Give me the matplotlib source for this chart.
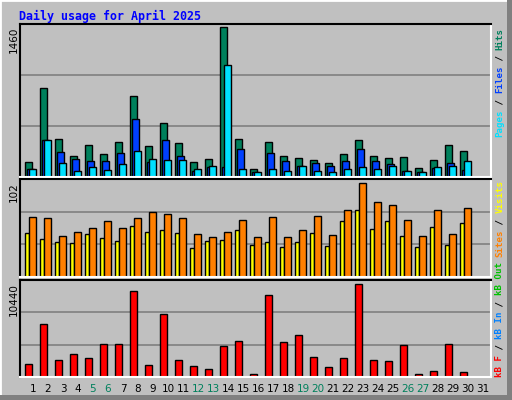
import matplotlib
matplotlib.use("Agg")
import matplotlib.pyplot as plt
from matplotlib.patches import Rectangle

days = list(range(1, 32))
hits = [146, 871, 374, 205, 315, 225, 345, 791, 305, 523, 335, 146, 176, 1460, 374, 76,
        345, 205, 186, 166, 136, 225, 364, 205, 186, 196, 86, 166, 315, 255, 0]
files = [76, 364, 245, 176, 156, 156, 235, 563, 146, 364, 205, 56, 96, 96, 275, 46,
         235, 156, 106, 136, 106, 156, 275, 156, 126, 56, 46, 86, 136, 66, 0]
pages = [76, 364, 136, 56, 96, 66, 126, 255, 176, 166, 166, 76, 106, 1090, 76, 46,
         76, 56, 106, 56, 46, 76, 96, 76, 106, 56, 46, 96, 106, 156, 0]
sites = [65, 64, 44, 49, 53, 61, 53, 64, 70, 68, 64, 47, 43, 49, 62, 43,
         65, 43, 51, 66, 45, 72, 102, 81, 78, 62, 44, 72, 47, 75, 0]
visits = [48, 41, 38, 37, 47, 42, 39, 55, 49, 51, 48, 31, 39, 40, 51, 35,
          38, 33, 38, 48, 34, 61, 72, 52, 61, 44, 33, 54, 35, 58, 0]
kbytes = [1410, 5980, 1870, 2550, 2100, 3700, 3700, 9640, 1300, 7010, 1870, 1180, 840, 3470,
          4040, 380, 9180, 3930, 4720, 2210, 1070, 2100, 10440, 1870, 1750, 3580, 380, 720,
          3700, 610, 0]
weekends = [5, 6, 12, 13, 19, 20, 26, 27]

W, H = 512, 400
BG = "#c0c0c0"
fig = plt.figure(figsize=(W / 100, H / 100), dpi=100, facecolor=BG)
mono = "DejaVu Sans Mono"

# frame
fig.patches.append(Rectangle((0, 0), 1, 1, transform=fig.transFigure, fill=False,
                             edgecolor="white", lw=2))
fig.patches.append(Rectangle((507 / W, 0), 5 / W, 1, transform=fig.transFigure,
                             color="#808080", lw=0))
fig.patches.append(Rectangle((0, 0), 1, 5 / H, transform=fig.transFigure,
                             color="#808080", lw=0))

def ax_px(x0, y0, x1, y1):
    return fig.add_axes([x0 / W, 1 - y1 / H, (x1 - x0) / W, (y1 - y0) / H])

X0, X1 = 20, 491
xl = (0.133, 31.53)
u = 1 / 15.0

def style(ax, ymax):
    ax.set_facecolor(BG)
    ax.set_xlim(*xl)
    ax.set_ylim(0, ymax)
    ax.set_xticks([]); ax.set_yticks([])
    for s in ("top", "left"):
        ax.spines[s].set_color("black"); ax.spines[s].set_linewidth(1.5)
    for s in ("right", "bottom"):
        ax.spines[s].set_color("white"); ax.spines[s].set_linewidth(1.5)
    for f in (1 / 3, 2 / 3):
        ax.axhline(ymax * f, color="#808080", lw=1.2, zorder=0)

def bars(ax, vals, off, w, color):
    ax.bar([d + off * u for d in days], vals, width=w * u, align="edge",
           color=color, edgecolor="black", lw=1, zorder=2)

a1 = ax_px(X0, 24, X1, 177)
style(a1, 1460 * 1.02)
bars(a1, hits, -7.7, 7, "#00805c")
bars(a1, files, -5.7, 7, "#0040ff")
bars(a1, pages, -3.7, 7, "#00e0ff")

a2 = ax_px(X0, 179, X1, 277)
style(a2, 102 * 1.04)
bars(a2, visits, -7.7, 4, "#ffff00")
bars(a2, sites, -3.7, 7, "#ff8000")

a3 = ax_px(X0, 280, X1, 377)
style(a3, 10440 * 1.04)
bars(a3, kbytes, -7.7, 7, "#ff0000")

# title
fig.text(19 / W, 1 - 16 / H, "Daily usage for April 2025", family=mono,
         weight="bold", fontsize=8.4, color="#0000ff", va="center", ha="left")

# left max labels
for y, s in ((27, "1460"), (182, "102"), (283, "10440")):
    fig.text(14 / W, 1 - y / H, s, rotation=90, fontsize=7.5, va="top", ha="center",
             family="DejaVu Sans")

# right legends
def vlabel(y_bottom, parts):
    ch = 5.45
    y = y_bottom
    for s, c in parts:
        fig.text(500 / W, 1 - y / H, s, rotation=90, family=mono, fontsize=6.6,
                 color=c, va="bottom", ha="center", weight="bold")
        y -= ch * len(s)

vlabel(137, [("Pages", "#00e0ff"), (" / ", "black"), ("Files", "#0040ff"),
             (" / ", "black"), ("Hits", "#00805c")])
vlabel(257, [("Sites", "#ff8000"), (" / ", "black"), ("Visits", "#ffff00")])
vlabel(377, [("kB F", "#ff0000"), (" / ", "black"), ("kB In", "#0080ff"),
             (" / ", "black"), ("kB Out", "#00c000")])

# day labels
for d in days:
    x = 33 + 15 * (d - 1)
    fig.text(x / W, 1 - 389 / H, str(d), fontsize=7.5, ha="center", va="center",
             color="#00805c" if d in weekends else "black", family="DejaVu Sans")

fig.savefig("out.png", dpi=100, facecolor=BG)
